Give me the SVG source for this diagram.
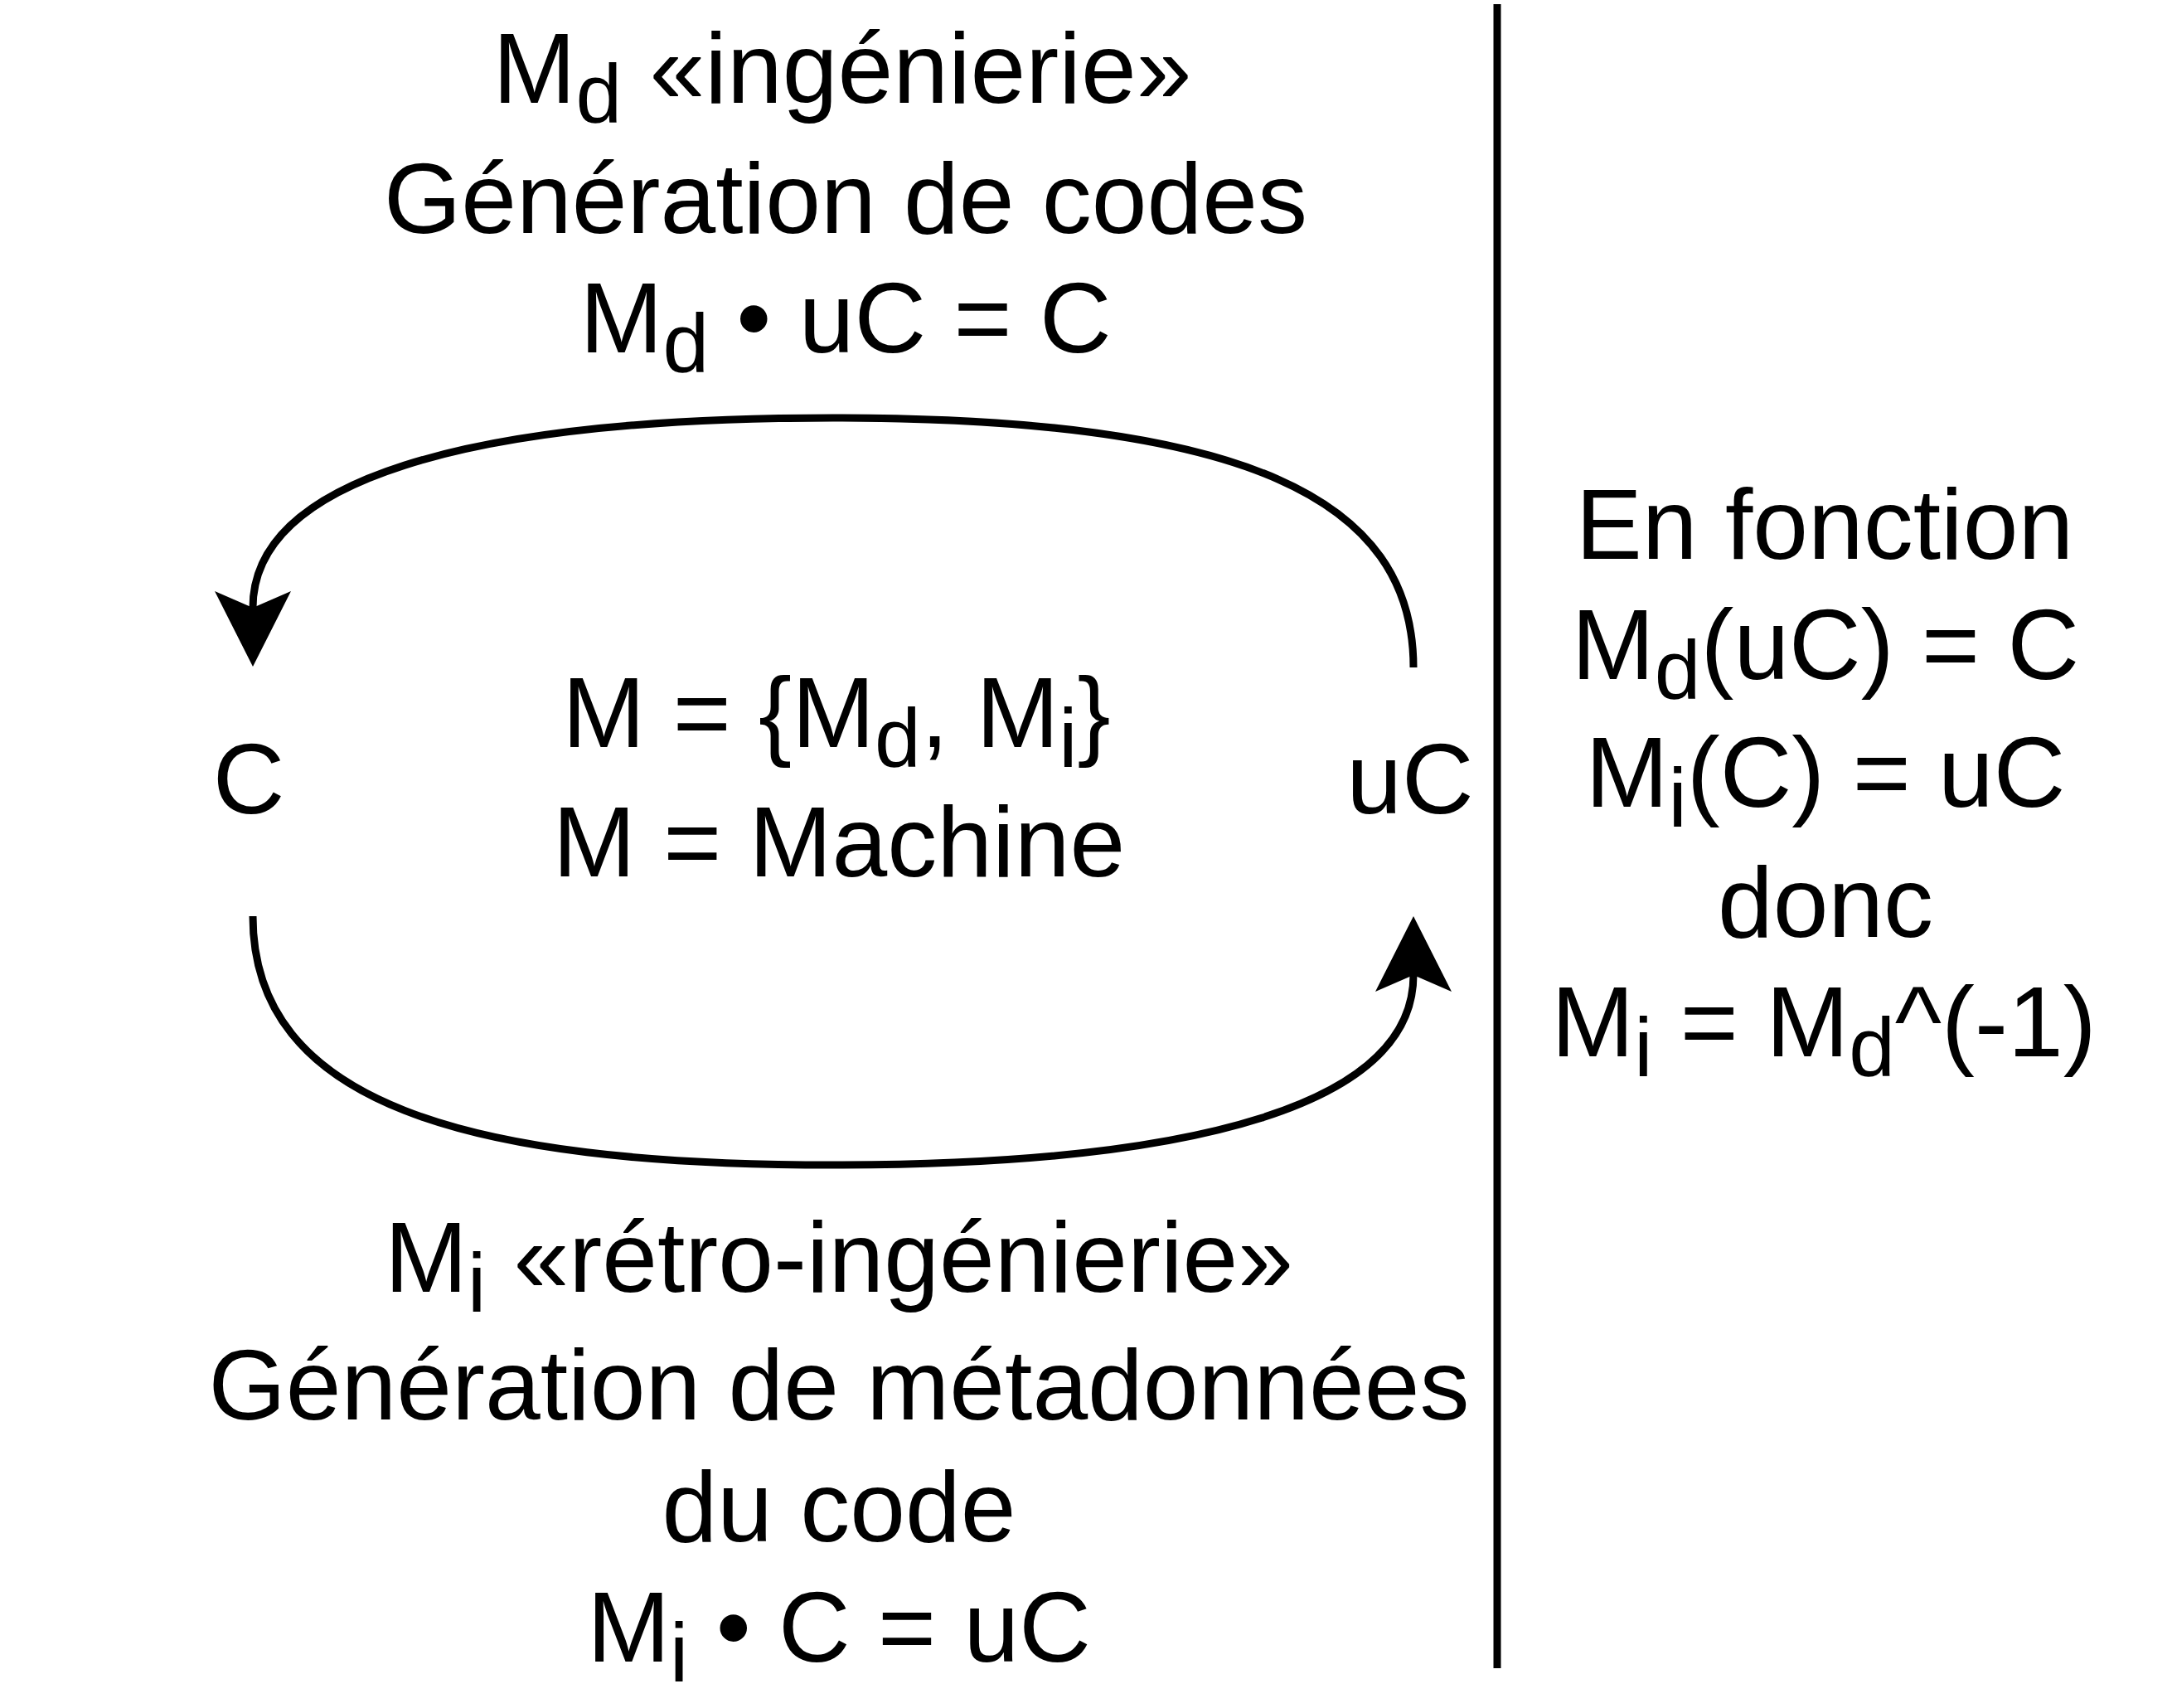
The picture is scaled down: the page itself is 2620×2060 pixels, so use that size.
<svg xmlns="http://www.w3.org/2000/svg" width="2620" height="2060" viewBox="0 0 2620 2060">
<style>
text{font-family:"Liberation Sans",Arial,Helvetica,sans-serif;font-size:120px;fill:#000;text-anchor:middle}
.sub{font-size:100px}
.edge{fill:none;stroke:#000;stroke-width:9}
</style>
<defs>
<marker id="arr" markerUnits="userSpaceOnUse" markerWidth="100" markerHeight="100" viewBox="0 -50 100 100" refX="20" refY="0" orient="auto">
<path d="M0,-46 L91,0 L0,46 L20,0 Z" fill="#000"/>
</marker>
</defs>
<rect width="2620" height="2060" fill="#fff"/>
<g id="connectors">
<path class="edge" d="M1705,805 C1705,600 1500,504 1005,504 C560,504 305,580 305,733" marker-end="url(#arr)"/>
<path class="edge" d="M305,1105 C305,1330 560,1405 1005,1405 C1450,1405 1705,1330 1705,1176" marker-end="url(#arr)"/>
<line class="edge" x1="1806" y1="5" x2="1806" y2="2012"/>
</g>
<g id="node-C"><text x="300" y="981">C</text></g>
<g id="node-uC"><text x="1701" y="981">uC</text></g>
<g id="label-top">
<text x="1016" y="124">M<tspan class="sub" dy="24">d</tspan><tspan dy="-24"> «ingénierie»</tspan></text>
<text x="1020" y="281">Génération de codes</text>
<text x="1020" y="425">M<tspan class="sub" dy="24">d</tspan><tspan dy="-24"> • uC = C</tspan></text>
</g>
<g id="label-center">
<text x="1009" y="901">M = {M<tspan class="sub" dy="24">d</tspan><tspan dy="-24">, M</tspan><tspan class="sub" dy="24">i</tspan><tspan dy="-24">}</tspan></text>
<text x="1012" y="1057">M = Machine</text>
</g>
<g id="label-bottom">
<text x="1012" y="1558">M<tspan class="sub" dy="24">i</tspan><tspan dy="-24"> «rétro-ingénierie»</tspan></text>
<text x="1012" y="1712">Génération de métadonnées</text>
<text x="1012" y="1859">du code</text>
<text x="1012" y="2004">M<tspan class="sub" dy="24">i</tspan><tspan dy="-24"> • C = uC</tspan></text>
</g>
<g id="label-right">
<text x="2201" y="674">En fonction</text>
<text x="2202" y="819">M<tspan class="sub" dy="24">d</tspan><tspan dy="-24">(uC) = C</tspan></text>
<text x="2202" y="973">M<tspan class="sub" dy="24">i</tspan><tspan dy="-24">(C) = uC</tspan></text>
<text x="2202" y="1130">donc</text>
<text x="2200" y="1274">M<tspan class="sub" dy="24">i</tspan><tspan dy="-24"> = M</tspan><tspan class="sub" dy="24">d</tspan><tspan dy="-24">^(-1)</tspan></text>
</g>
</svg>
